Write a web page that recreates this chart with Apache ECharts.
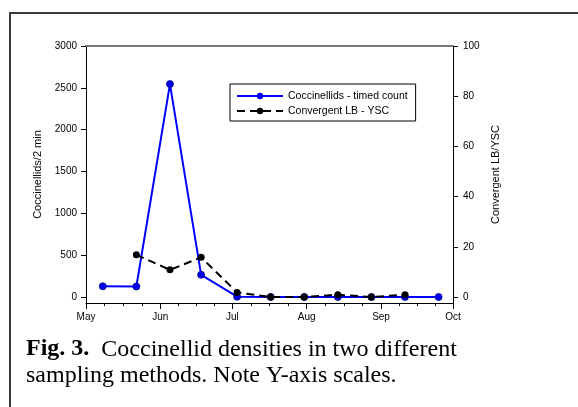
<!DOCTYPE html>
<html>
<head>
<meta charset="utf-8">
<script src="https://cdn.jsdelivr.net/npm/echarts@6/dist/echarts.min.js"></script>
<style>
  html, body { margin: 0; padding: 0; background: #fff; }
  #frame { position: absolute; left: 9px; top: 12px; width: 590px; height: 410px;
           border-left: 2px solid #3a3a3a; border-top: 2px solid #3a3a3a; }
  #chart { position: absolute; left: 0; top: 0; width: 578px; height: 407px; }
</style>
</head>
<body>
<div id="frame"></div>
<div id="chart"></div>
<script>
// ---- data ----
const sampleDates   = ['2000-05-08','2000-05-22','2000-06-05','2000-06-18','2000-07-03','2000-07-17','2000-07-31','2000-08-14','2000-08-28','2000-09-11','2000-09-25'];
const coccinellids  = [128, 125, 2545, 265, 3, 0, 0, 0, 0, 0, 0];          // Coccinellids/2 min
const convergentLB  = [null, 16.8, 10.8, 15.8, 1.8, 0, 0, 0.9, 0, 0.9, null]; // Convergent LB/YSC
const monthLabels   = ['May','Jun','Jul','Aug','Sep','Oct'];
const monthStarts   = ['2000-05-01','2000-06-01','2000-07-01','2000-08-01','2000-09-01','2000-10-01'];
const leftTicks     = [0, 500, 1000, 1500, 2000, 2500, 3000];
const rightTicks    = [0, 20, 40, 60, 80, 100];
const seriesNames   = ['Coccinellids - timed count', 'Convergent LB - YSC'];

// ---- helpers ----
const origin = Date.UTC(2000, 4, 1);
function dayOf(s) { const p = s.split('-').map(Number); return (Date.UTC(p[0], p[1]-1, p[2]) - origin) / 864e5; }
const monthDays = monthStarts.map(dayOf);
const minorDays = [];
for (let i = 0; i < monthDays.length - 1; i++) {
  const a = monthDays[i], b = monthDays[i+1];
  for (let k = 1; k < 4; k++) minorDays.push(a + (b - a) * k / 4);
}
const xMin = monthDays[0], xMax = monthDays[monthDays.length - 1];
const xs = sampleDates.map(dayOf);
const blueData  = xs.map((x, i) => [x, coccinellids[i]]);
const blackData = xs.map((x, i) => [x, convergentLB[i] === null ? null : convergentLB[i]]);

const FONT = 'Liberation Sans, Arial, sans-serif';
const SERIF = 'Liberation Serif, Times New Roman, serif';
const chart = echarts.init(document.getElementById('chart'), null, { renderer: 'canvas' });

const option = {
  animation: false,
  backgroundColor: 'transparent',
  textStyle: { fontFamily: FONT },
  title: {
    left: 26, top: 336, padding: 0,
    text: '{b|Fig. 3.}  Coccinellid densities in two different\nsampling methods. Note Y-axis scales.',
    textStyle: {
      fontFamily: SERIF, fontSize: 24, fontWeight: 'normal', color: '#000', lineHeight: 26.5,
      rich: { b: { fontFamily: SERIF, fontSize: 24, fontWeight: 'bold', color: '#000', lineHeight: 26.5 } }
    }
  },
  grid: { left: 86, right: 125, top: 46, bottom: 104, containLabel: false },
  legend: {
    orient: 'vertical', left: 230, top: 84,
    padding: [6, 8, 4, 6],
    itemWidth: 46, itemHeight: 8, itemGap: 3,
    borderColor: '#000', borderWidth: 1, backgroundColor: '#fff',
    itemStyle: { borderWidth: 0 },
    textStyle: { fontFamily: FONT, fontSize: 10.5, color: '#000', lineHeight: 12 },
    data: seriesNames
  },
  xAxis: [
    {
      type: 'value', min: xMin, max: xMax, position: 'bottom',
      axisLine: { show: true, onZero: false, lineStyle: { color: '#000', width: 1 } },
      axisTick: { show: true, length: 6, customValues: monthDays, lineStyle: { color: '#000' } },
      axisLabel: { show: true, customValues: monthDays, margin: 9, fontSize: 10, color: '#000', fontFamily: FONT,
                   formatter: v => monthLabels[monthDays.indexOf(v)] || '' },
      splitLine: { show: false }
    },
    {
      type: 'value', min: xMin, max: xMax, position: 'top',
      axisLine: { show: true, onZero: false, lineStyle: { color: '#7a7a7a', width: 2 } },
      axisTick: { show: false }, axisLabel: { show: false }, splitLine: { show: false }
    },
    {
      type: 'value', min: xMin, max: xMax, position: 'bottom',
      axisLine: { show: false, onZero: false },
      axisTick: { show: true, length: 3, customValues: minorDays, lineStyle: { color: '#000' } },
      axisLabel: { show: false }, splitLine: { show: false }
    }
  ],
  yAxis: [
    {
      type: 'value', min: -72, max: 3000, position: 'left',
      axisLine: { show: true, onZero: false, lineStyle: { color: '#000', width: 1 } },
      axisTick: { show: true, length: 5, customValues: leftTicks, lineStyle: { color: '#000' } },
      axisLabel: { show: true, customValues: leftTicks, margin: 9, fontSize: 10, color: '#000', fontFamily: FONT,
                   formatter: v => String(v) },
      splitLine: { show: false },
      name: 'Coccinellids/2 min', nameLocation: 'middle', nameGap: 38, nameRotate: 90,
      nameTextStyle: { fontSize: 11, color: '#000', fontFamily: FONT }
    },
    {
      type: 'value', min: -2.4, max: 100, position: 'right',
      axisLine: { show: true, onZero: false, lineStyle: { color: '#000', width: 1 } },
      axisTick: { show: true, length: 5, customValues: rightTicks, lineStyle: { color: '#000' } },
      axisLabel: { show: true, customValues: rightTicks, margin: 10, fontSize: 10, color: '#000', fontFamily: FONT,
                   formatter: v => String(v) },
      splitLine: { show: false },
      name: 'Convergent LB/YSC', nameLocation: 'middle', nameGap: 37, nameRotate: 90,
      nameTextStyle: { fontSize: 11, color: '#000', fontFamily: FONT }
    }
  ],
  series: [
    {
      name: seriesNames[0], type: 'line', xAxisIndex: 0, yAxisIndex: 0,
      data: blueData, symbol: 'circle', symbolSize: 7,
      lineStyle: { color: '#0000ff', width: 2 },
      itemStyle: { color: '#0000ee', borderColor: '#000080', borderWidth: 0.8 },
      z: 2
    },
    {
      name: seriesNames[1], type: 'line', xAxisIndex: 0, yAxisIndex: 1,
      data: blackData, symbol: 'circle', symbolSize: 7, connectNulls: false,
      lineStyle: { color: '#000', width: 2, type: [8, 5] },
      itemStyle: { color: '#000' },
      z: 3
    }
  ]
};
chart.setOption(option);
</script>
</body>
</html>
